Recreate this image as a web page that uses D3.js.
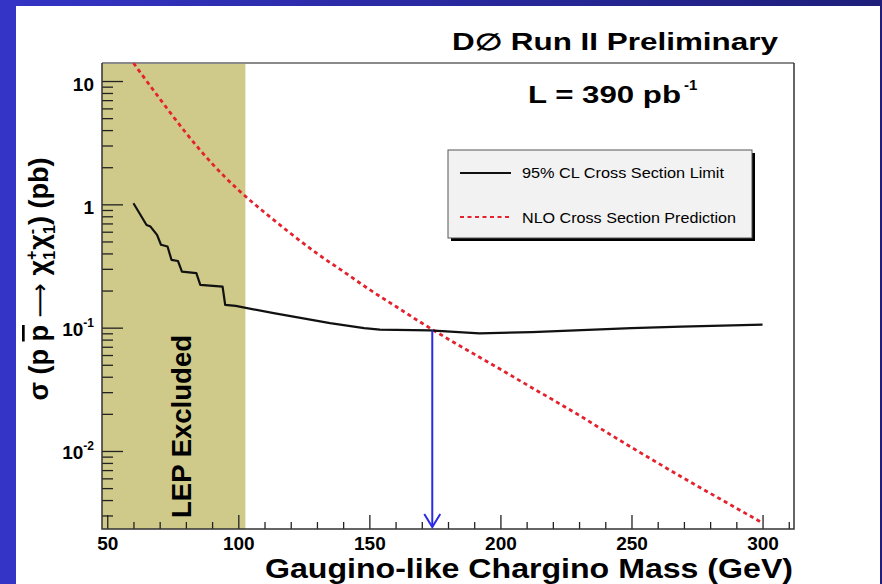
<!DOCTYPE html>
<html>
<head>
<meta charset="utf-8">
<script src="https://cdn.jsdelivr.net/npm/d3@7"></script>
<style>
  body { margin: 0; padding: 0; overflow: hidden; }
  text { font-family: "Liberation Sans", Arial, Helvetica, sans-serif; }
</style>
</head>
<body>
<div id="chart"></div>
<script>
// Chart data
var limitMass = [60, 65, 66.5, 69, 70.5, 73, 74.5, 77, 78.5, 84, 85.5, 94, 95, 99, 113.5, 135, 148, 154, 173, 192, 212, 250, 269, 300];
var limitXsec = [1.02, 0.68, 0.66, 0.565, 0.47, 0.455, 0.355, 0.347, 0.285, 0.277, 0.222, 0.215, 0.153, 0.150, 0.131, 0.109, 0.099, 0.0963, 0.095, 0.090, 0.092, 0.099, 0.102, 0.106];

var nloMass = [60, 70, 80, 90, 100, 110, 120, 130, 140, 150, 160, 170, 180, 190, 200, 210, 220, 230, 240, 250, 260, 270, 280, 290, 300];
var nloXsec = [14.0, 7.2, 3.8, 2.14, 1.31, 0.86, 0.58, 0.40, 0.286, 0.204, 0.149, 0.109, 0.081, 0.061, 0.046, 0.0345, 0.026, 0.0195, 0.0144, 0.0107, 0.0080, 0.0060, 0.00454, 0.00344, 0.00261];

var lepBand = [48, 102.7];
var excludedMass = 174;
var excludedXsec = 0.095;

var massTicks = [50, 100, 150, 200, 250, 300];
var xsecTicks = [10, 1, 0.1, 0.01];
var xsecTickBase = ["10", "1", "10", "10"];
var xsecTickExp = ["", "", "-1", "-2"];

var legendLabels = ["95% CL Cross Section Limit", "NLO Cross Section Prediction"];

// Set up the chart
var svgWidth = 882;
var svgHeight = 584;

var frame = { left: 102, right: 794, top: 63, bottom: 529 };

var svg = d3.select("#chart")
  .append("svg")
  .attr("width", svgWidth)
  .attr("height", svgHeight);

// Blue slide background + white panel
var defs = svg.append("defs");
var grad = defs.append("linearGradient")
  .attr("id", "bg")
  .attr("x1", "0").attr("x2", "1").attr("y1", "0").attr("y2", "0");
grad.append("stop").attr("offset", "0").attr("stop-color", "#3434c6");
grad.append("stop").attr("offset", "1").attr("stop-color", "#1e1e7a");

svg.append("rect")
  .attr("width", svgWidth).attr("height", svgHeight)
  .attr("fill", "url(#bg)");

svg.append("rect")
  .attr("x", 16).attr("y", 6)
  .attr("width", 864).attr("height", svgHeight - 6)
  .attr("fill", "#ffffff");

defs.append("clipPath").attr("id", "plotclip")
  .append("rect")
  .attr("x", frame.left).attr("y", frame.top)
  .attr("width", frame.right - frame.left)
  .attr("height", frame.bottom - frame.top);

// Scales
var x = d3.scaleLinear()
  .domain([48, 312])
  .range([frame.left, frame.right]);

var y = d3.scaleLog()
  .domain([14.0, 0.00233])
  .range([frame.top, frame.bottom]);

// LEP excluded band
svg.append("rect")
  .attr("x", x(lepBand[0]))
  .attr("y", frame.top)
  .attr("width", x(lepBand[1]) - x(lepBand[0]))
  .attr("height", frame.bottom - frame.top)
  .attr("fill", "#cfc98a");

svg.append("text")
  .attr("transform", `translate(191, 518) rotate(-90)`)
  .attr("font-size", 27)
  .attr("font-weight", "bold")
  .attr("textLength", 183)
  .attr("lengthAdjust", "spacingAndGlyphs")
  .attr("fill", "#000")
  .text("LEP Excluded");

// X axis ticks (pointing inside)
var xMajor = d3.axisBottom(x)
  .tickValues(massTicks)
  .tickSize(-14)
  .tickPadding(8)
  .tickFormat(d3.format("d"));

var xMinor = d3.axisBottom(x)
  .tickValues(d3.range(60, 320, 10).filter(d => d % 50 !== 0))
  .tickSize(-7)
  .tickFormat("");

var xAxisG = svg.append("g")
  .attr("transform", `translate(0, ${frame.bottom})`)
  .call(xMajor);
xAxisG.selectAll("text")
  .attr("font-size", 19)
  .attr("font-weight", "bold")
  .attr("fill", "#000")
  .attr("font-family", "Liberation Sans, Arial, sans-serif");

svg.append("g")
  .attr("transform", `translate(0, ${frame.bottom})`)
  .call(xMinor);

// Y axis ticks (log)
var yMajor = d3.axisLeft(y)
  .tickValues(xsecTicks)
  .tickSize(-21)
  .tickFormat("");

var yMinor = d3.axisLeft(y)
  .tickValues(y.ticks().filter(d => xsecTicks.indexOf(d) < 0))
  .tickSize(-11)
  .tickFormat("");

svg.append("g")
  .attr("transform", `translate(${frame.left}, 0)`)
  .call(yMajor);
svg.append("g")
  .attr("transform", `translate(${frame.left}, 0)`)
  .call(yMinor);

svg.selectAll(".domain").remove();
svg.selectAll(".tick line")
  .attr("stroke", "#222")
  .attr("stroke-width", 1.3);

// Y tick labels with superscripts
xsecTicks.forEach(function(v, i) {
  var lab = svg.append("text")
    .attr("x", 94)
    .attr("y", y(v) + (xsecTickExp[i] ? 8 : 10))
    .attr("text-anchor", "end")
    .attr("font-size", 19)
    .attr("font-weight", "bold");
  lab.append("tspan").text(xsecTickBase[i]);
  if (xsecTickExp[i]) {
    lab.append("tspan")
      .attr("font-size", 12)
      .attr("dy", -9)
      .text(xsecTickExp[i]);
  }
});

// Frame
svg.append("line")
  .attr("x1", frame.left).attr("x2", frame.right)
  .attr("y1", frame.top).attr("y2", frame.top)
  .attr("stroke", "#8a8a8a").attr("stroke-width", 2);
svg.append("path")
  .attr("d", `M${frame.left},${frame.top}V${frame.bottom}H${frame.right}V${frame.top}`)
  .attr("fill", "none")
  .attr("stroke", "#333")
  .attr("stroke-width", 1.5);

// Curves
var plot = svg.append("g").attr("clip-path", "url(#plotclip)");

var limitLine = d3.line()
  .x(d => x(d[0]))
  .y(d => y(d[1]));

var nloLine = d3.line()
  .x(d => x(d[0]))
  .y(d => y(d[1]))
  .curve(d3.curveMonotoneX);

plot.append("path")
  .datum(nloMass.map((m, i) => [m, nloXsec[i]]))
  .attr("d", nloLine)
  .attr("fill", "none")
  .attr("stroke", "#e3222e")
  .attr("stroke-width", 2.8)
  .attr("stroke-dasharray", "4,3.5");

plot.append("path")
  .datum(limitMass.map((m, i) => [m, limitXsec[i]]))
  .attr("d", limitLine)
  .attr("fill", "none")
  .attr("stroke", "#111")
  .attr("stroke-width", 2.2)
  .attr("stroke-linejoin", "round");

// Blue arrow at the excluded mass
var ax = x(excludedMass);
var tipY = frame.bottom - 2;
svg.append("line")
  .attr("x1", ax).attr("x2", ax)
  .attr("y1", y(excludedXsec)).attr("y2", tipY)
  .attr("stroke", "#2a2ae6").attr("stroke-width", 2);
svg.append("path")
  .attr("d", `M${ax - 8},${tipY - 13}L${ax},${tipY}L${ax + 8},${tipY - 13}`)
  .attr("fill", "none")
  .attr("stroke", "#2a2ae6").attr("stroke-width", 2);

// Legend
var legend = svg.append("g");
legend.append("rect")
  .attr("x", 451).attr("y", 153)
  .attr("width", 304).attr("height", 88)
  .attr("fill", "#000");
legend.append("rect")
  .attr("x", 448).attr("y", 150)
  .attr("width", 304).attr("height", 88)
  .attr("fill", "#f2f2f2")
  .attr("stroke", "#555")
  .attr("stroke-width", 1);

legend.append("line")
  .attr("x1", 460).attr("x2", 511)
  .attr("y1", 173).attr("y2", 173)
  .attr("stroke", "#111").attr("stroke-width", 2);
legend.append("line")
  .attr("x1", 460).attr("x2", 511)
  .attr("y1", 217).attr("y2", 217)
  .attr("stroke", "#e3222e").attr("stroke-width", 2)
  .attr("stroke-dasharray", "4,3.5");

legend.append("text")
  .attr("x", 522).attr("y", 178)
  .attr("font-size", 15)
  .attr("textLength", 202)
  .attr("lengthAdjust", "spacingAndGlyphs")
  .text(legendLabels[0]);
legend.append("text")
  .attr("x", 522).attr("y", 223)
  .attr("font-size", 15)
  .attr("textLength", 214)
  .attr("lengthAdjust", "spacingAndGlyphs")
  .text(legendLabels[1]);

// Titles
svg.append("text")
  .attr("x", 452).attr("y", 50)
  .attr("font-size", 23)
  .attr("font-weight", "bold")
  .attr("textLength", 326)
  .attr("lengthAdjust", "spacingAndGlyphs")
  .text("D\u2205 Run II Preliminary");

svg.append("text")
  .attr("x", 528).attr("y", 103)
  .attr("font-size", 23)
  .attr("font-weight", "bold")
  .attr("textLength", 153)
  .attr("lengthAdjust", "spacingAndGlyphs")
  .text("L = 390 pb");
svg.append("text")
  .attr("x", 684).attr("y", 90)
  .attr("font-size", 15)
  .attr("font-weight", "bold")
  .text("-1");

// X axis title
svg.append("text")
  .attr("x", 793).attr("y", 578)
  .attr("text-anchor", "end")
  .attr("font-size", 27)
  .attr("font-weight", "bold")
  .attr("textLength", 528)
  .attr("lengthAdjust", "spacingAndGlyphs")
  .text("Gaugino-like Chargino Mass (GeV)");

// Y axis title: sigma(p pbar -> chi1+ chi1-) (pb)
var yTitle = svg.append("text")
  .attr("transform", "translate(48, 279) rotate(-90)")
  .attr("text-anchor", "middle")
  .attr("font-size", 27)
  .attr("font-weight", "bold");
yTitle.append("tspan").text("\u03c3 (p ");
yTitle.append("tspan").attr("text-decoration", "overline").text("p");
yTitle.append("tspan").text(" ");
yTitle.append("tspan")
  .attr("font-family", "DejaVu Sans")
  .attr("font-weight", "normal")
  .attr("font-size", 24)
  .text("\u27f6");
yTitle.append("tspan").text(" \u03c7");
yTitle.append("tspan").attr("font-size", 16).attr("dy", -11).text("+");
yTitle.append("tspan").attr("font-size", 16).attr("dx", -9).attr("dy", 18).text("1");
yTitle.append("tspan").attr("dx", 1).attr("dy", -7).text("\u03c7");
yTitle.append("tspan").attr("font-size", 16).attr("dy", -11).text("-");
yTitle.append("tspan").attr("font-size", 16).attr("dx", -5).attr("dy", 18).text("1");
yTitle.append("tspan").attr("dy", -7).text(") (pb)");
</script>
</body>
</html>
